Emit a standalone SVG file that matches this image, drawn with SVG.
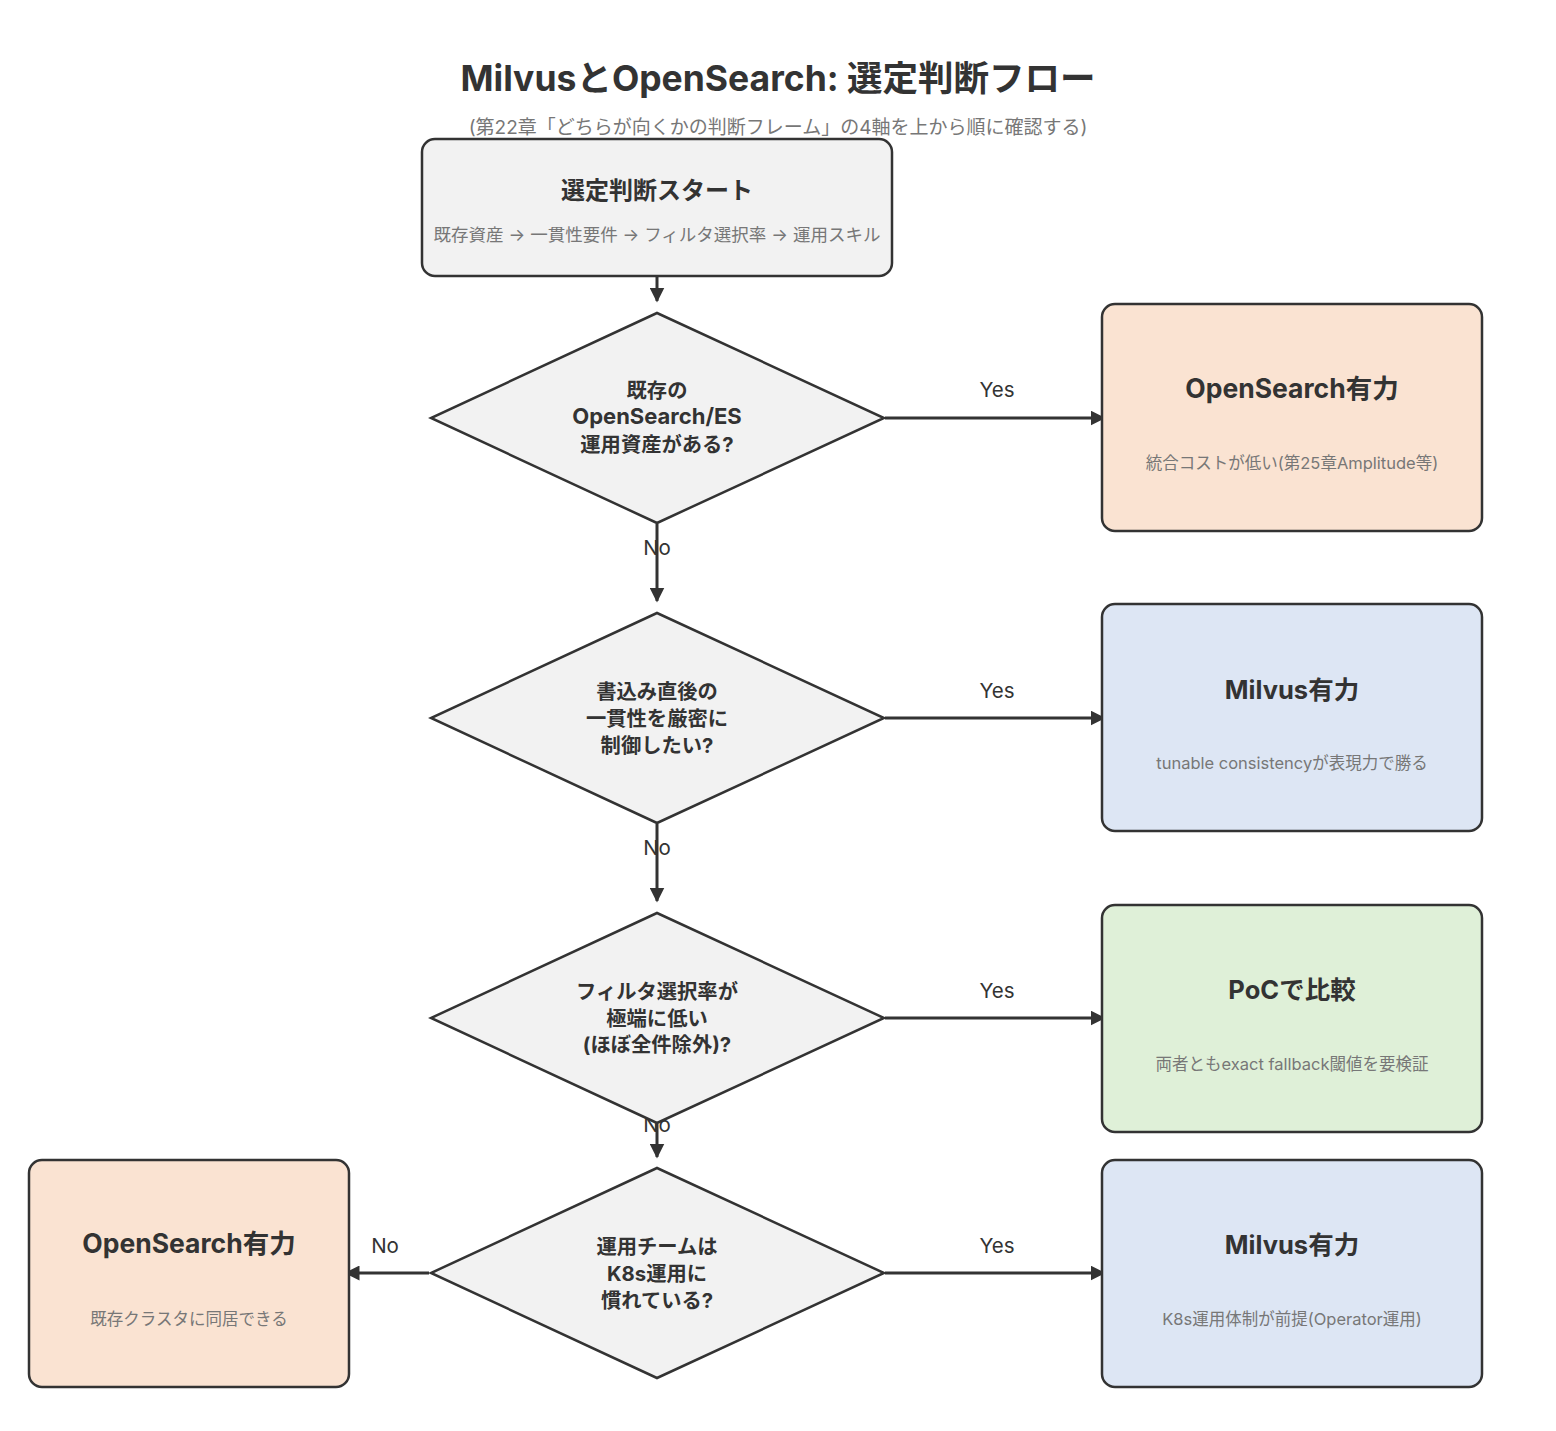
<svg xmlns="http://www.w3.org/2000/svg" width="1556" height="1431" viewBox="0 0 1556 1431">
<style>
text{font-family:Inter,"Noto Sans CJK JP",sans-serif;text-anchor:middle;dominant-baseline:central}
.title{font-size:35.5px;font-weight:700;fill:#333}
.sub{font-size:19px;fill:#777}
.box{stroke:#333;stroke-width:2.5}
.grey{fill:#f2f2f2}
.peach{fill:#fae3d2}
.blue{fill:#dde6f4}
.green{fill:#dff0d8}
.nt{font-size:25.5px;font-weight:700;fill:#333}
.ns{font-size:16.5px;fill:#777}
.dt{font-size:20.3px;font-weight:700;fill:#333}
.lbl{font-size:20.5px;fill:#333}
.edge{stroke:#333;stroke-width:3;fill:none;marker-end:url(#arr)}
</style>
<defs>
<marker id="arr" viewBox="0 0 10 10" refX="9" refY="5" markerWidth="5" markerHeight="5" orient="auto" markerUnits="strokeWidth">
<path d="M0,0 L10,5 L0,10 z" fill="#333"/>
</marker>
</defs>
<rect width="1556" height="1431" fill="#fff"/>
<text class="title" x="778" y="78">MilvusとOpenSearch: 選定判断フロー</text>
<text class="sub" x="778" y="127">(第22章「どちらが向くかの判断フレーム」の4軸を上から順に確認する)</text>

<g id="connectors">
<line class="edge" x1="657" y1="270" x2="657" y2="301"/>
<line class="edge" x1="885" y1="418" x2="1104" y2="418"/>
<line class="edge" x1="657" y1="524" x2="657" y2="601"/>
<line class="edge" x1="885" y1="718" x2="1104" y2="718"/>
<line class="edge" x1="657" y1="824" x2="657" y2="901"/>
<line class="edge" x1="885" y1="1018" x2="1104" y2="1018"/>
<line class="edge" x1="657" y1="1124" x2="657" y2="1157"/>
<line class="edge" x1="885" y1="1273" x2="1104" y2="1273"/>
<line class="edge" x1="429" y1="1273" x2="346" y2="1273"/>
<text class="lbl" x="997" y="389">Yes</text>
<text class="lbl" x="997" y="690">Yes</text>
<text class="lbl" x="997" y="990">Yes</text>
<text class="lbl" x="997" y="1245">Yes</text>
<text class="lbl" x="657" y="547">No</text>
<text class="lbl" x="657" y="847">No</text>
<text class="lbl" x="657" y="1124">No</text>
<text class="lbl" x="385" y="1245">No</text>
</g>

<g id="start">
<rect class="box grey" x="422" y="139" width="470" height="137" rx="13"/>
<text class="nt" x="657" y="190" style="font-size:24px">選定判断スタート</text>
<text class="ns" x="657" y="234" style="font-size:17.5px">既存資産 → 一貫性要件 → フィルタ選択率 → 運用スキル</text>
</g>

<g id="q1">
<polygon class="box grey" points="657,313 884,418 657,523 431,418"/>
<text class="dt" x="657" y="390">既存の</text>
<text class="dt" x="657" y="416" style="font-size:22px">OpenSearch/ES</text>
<text class="dt" x="657" y="444">運用資産がある?</text>
</g>

<g id="r1">
<rect class="box peach" x="1102" y="304" width="380" height="227" rx="13"/>
<text class="nt" x="1292" y="388" style="font-size:26.5px">OpenSearch有力</text>
<text class="ns" x="1292" y="463">統合コストが低い(第25章Amplitude等)</text>
</g>

<g id="q2">
<polygon class="box grey" points="657,613 884,718 657,823 431,718"/>
<text class="dt" x="657" y="691">書込み直後の</text>
<text class="dt" x="657" y="718">一貫性を厳密に</text>
<text class="dt" x="657" y="745">制御したい?</text>
</g>

<g id="r2">
<rect class="box blue" x="1102" y="604" width="380" height="227" rx="13"/>
<text class="nt" x="1292" y="689">Milvus有力</text>
<text class="ns" x="1292" y="763">tunable consistencyが表現力で勝る</text>
</g>

<g id="q3">
<polygon class="box grey" points="657,913 884,1018 657,1123 431,1018"/>
<text class="dt" x="657" y="991">フィルタ選択率が</text>
<text class="dt" x="657" y="1018">極端に低い</text>
<text class="dt" x="657" y="1044">(ほぼ全件除外)?</text>
</g>

<g id="r3">
<rect class="box green" x="1102" y="905" width="380" height="227" rx="13"/>
<text class="nt" x="1292" y="989">PoCで比較</text>
<text class="ns" x="1292" y="1064">両者ともexact fallback閾値を要検証</text>
</g>

<g id="q4">
<polygon class="box grey" points="657,1168 884,1273 657,1378 431,1273"/>
<text class="dt" x="657" y="1246">運用チームは</text>
<text class="dt" x="657" y="1273">K8s運用に</text>
<text class="dt" x="657" y="1300">慣れている?</text>
</g>

<g id="r4">
<rect class="box blue" x="1102" y="1160" width="380" height="227" rx="13"/>
<text class="nt" x="1292" y="1244">Milvus有力</text>
<text class="ns" x="1292" y="1319">K8s運用体制が前提(Operator運用)</text>
</g>

<g id="r5">
<rect class="box peach" x="29" y="1160" width="320" height="227" rx="13"/>
<text class="nt" x="189" y="1243" style="font-size:26.5px">OpenSearch有力</text>
<text class="ns" x="189" y="1319">既存クラスタに同居できる</text>
</g>
</svg>
